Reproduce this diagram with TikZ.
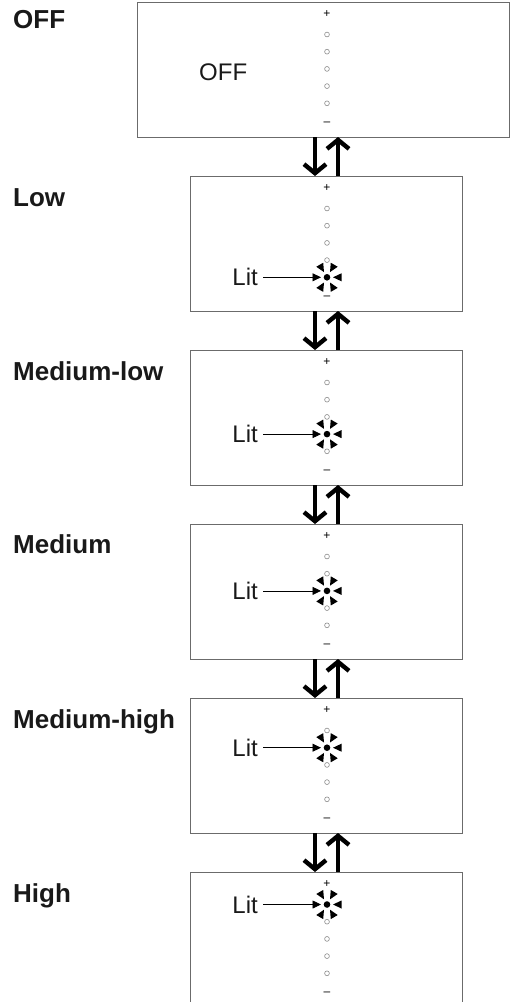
\documentclass[tikz,border=0pt]{standalone}
\usepackage{fontspec}
\setmainfont{Liberation Sans}
\usetikzlibrary{arrows.meta,calc}
\definecolor{boxgray}{HTML}{6B6B6B}
\definecolor{ledgray}{HTML}{8A8A8A}
\begin{document}
\begin{tikzpicture}[x=1pt,y=-1pt,
  panel/.style={draw=boxgray, line width=1pt, inner sep=0pt, outer sep=0pt, anchor=north west, minimum height=135pt},
  modelabel/.style={font=\fontsize{26}{30}\selectfont\bfseries, inner sep=0pt, anchor=base west, text=black!90},
  sign/.style={font=\fontsize{12}{13}\selectfont, inner sep=0pt},
  led/.style={circle, draw=ledgray, line width=0.6pt, minimum size=4.8pt, inner sep=0pt},
  litdot/.style={circle, fill=black, minimum size=6.6pt, inner sep=0pt},
  littext/.style={font=\fontsize{24}{28}\selectfont, inner sep=0pt, anchor=base east, text=black!90},
  litarrow/.style={-{Triangle[length=8.5pt,width=8pt]}, line width=0.8pt, shorten >=6pt},
  updown/.style={-{Straight Barb[length=9pt,width=22pt]}, line width=4.4pt}
]
\useasboundingbox (0,0) rectangle (515,1002);
\clip (0,0) rectangle (515,1002);

% panels
\node[panel, minimum width=372pt] (b0) at (137,2) {};
\node[panel, minimum width=272pt] (b1) at (190,176) {};
\node[panel, minimum width=272pt] (b2) at (190,350) {};
\node[panel, minimum width=272pt] (b3) at (190,524) {};
\node[panel, minimum width=272pt] (b4) at (190,698) {};
\node[panel, minimum width=272pt] (b5) at (190,872) {};

% mode labels
\node[modelabel] (l0) at (13,28) {OFF};
\node[modelabel] (l1) at (13,206) {Low};
\node[modelabel] (l2) at (13,380) {Medium-low};
\node[modelabel] (l3) at (13,553) {Medium};
\node[modelabel] (l4) at (13,728) {Medium-high};
\node[modelabel] (l5) at (13,902) {High};

% OFF text
\node[font=\fontsize{24}{28}\selectfont, inner sep=0pt, anchor=base west, text=black!90] (offtext) at (199,80.5) {OFF};

% indicator columns
\foreach \i/\T/\L in {0/2/9,1/176/4,2/350/3,3/524/2,4/698/1,5/872/0}{
  \node[sign] (p\i) at (327,{\T+12.5}) {+};
  \node[sign] (m\i) at (327,{\T+122}) {–};
  \foreach \k in {0,...,4}{
    \ifnum\k=\L\relax\else
      \node[led] (c\i\k) at (327,{\T+32.5+17.2*\k}) {};
    \fi
  }
  \ifnum\L<9
    \node[litdot] (d\i) at (327,{\T+32.5+17.2*\L}) {};
    \foreach \a in {0,60,120,240,300}{
      \fill[shift={(d\i.center)}, rotate=\a] (6,0) -- (14.5,4) -- (14.5,-4) -- cycle;
    }
    \node[littext] (t\i) at (258,{\T+32.5+17.2*\L+8.6}) {Lit};
    \draw[litarrow] ([xshift=5pt]t\i.east |- d\i.center) -- (d\i.center);
  \fi
}

% transition arrows
\foreach \u/\v in {0/1,1/2,2/3,3/4,4/5}{
  \draw[updown] (b\u.south -| 315,0) -- (b\v.north -| 315,0);
  \draw[updown] (b\v.north -| 338,0) -- (b\u.south -| 338,0);
}
\end{tikzpicture}
\end{document}
